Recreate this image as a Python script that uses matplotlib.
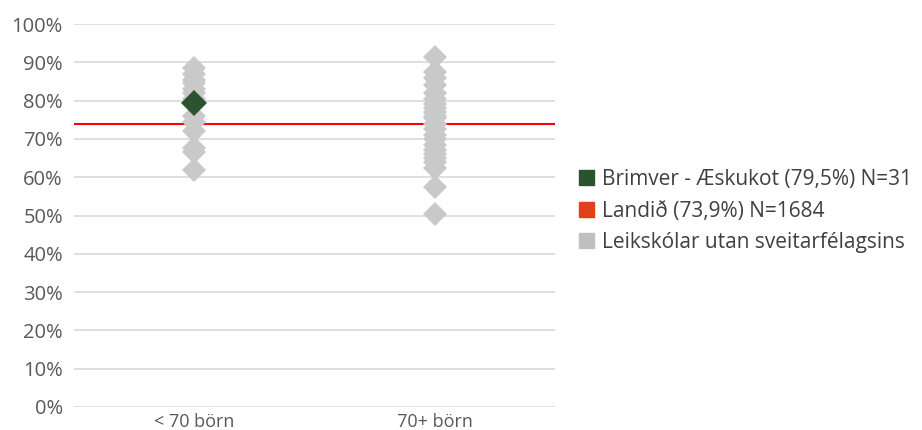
import matplotlib
matplotlib.use("Agg")
import matplotlib.pyplot as plt
from matplotlib.patches import Patch
from matplotlib.ticker import FuncFormatter

categories = ["< 70 börn", "70+ börn"]
group_small = [88.5, 87, 85.5, 84.5, 83, 82, 80.5, 76, 74.5, 72, 67.5, 66.5, 62]
group_large = [91.5, 87.5, 86, 84, 82, 80.5, 79, 78, 77, 76, 75.5, 74, 72.5, 71,
               70, 68.5, 67, 66, 65, 64, 62.5, 57.5, 50.5]
highlight_value = 79.5
highlight_cat = 0
national_value = 73.9
legend_labels = ["Brimver - Æskukot (79,5%) N=31", "Landið (73,9%) N=1684",
                 "Leikskólar utan sveitarfélagsins"]

plt.rcParams['font.family'] = ['Open Sans', 'DejaVu Sans']

fig = plt.figure(figsize=(9.22, 4.30), dpi=100)
ax = fig.add_axes([74/922, 23/430, (555-74)/922, (407-24)/430])

gray = "#c9c9c9"
for i, vals in enumerate([group_small, group_large]):
    ax.plot([i]*len(vals), vals, linestyle="none", marker="D", markersize=12.5,
            color=gray, markeredgewidth=0, zorder=3)
ax.plot([highlight_cat], [highlight_value], linestyle="none", marker="D",
        markersize=13, color="#2d5230", markeredgewidth=0, zorder=4)
ax.axhline(national_value, color="#ff0000", linewidth=1.5, zorder=2)

ax.set_xlim(-0.5, 1.5)
ax.set_ylim(0, 100)
ax.set_yticks(range(0, 101, 10))
ax.yaxis.set_major_formatter(FuncFormatter(lambda v, p: f"{int(v)}%"))
ax.set_xticks([0, 1])
ax.set_xticklabels(categories)
ax.grid(axis="y", color="#d9d9d9", linewidth=1.2, zorder=0)
ax.set_axisbelow(True)
for s in ax.spines.values():
    s.set_visible(False)
ax.tick_params(axis="both", length=0, colors="#595959")
ax.tick_params(axis="y", labelsize=14.5, pad=8)
ax.tick_params(axis="x", labelsize=13, pad=4)

handles = [Patch(color="#2d5230"), Patch(color="#e0401a"), Patch(color="#bfbfbf")]
fig.legend(handles, legend_labels, loc="center left", bbox_to_anchor=(560/922, 1-211/430),
           frameon=False, fontsize=15, handlelength=0.75, handleheight=0.75,
           handletextpad=0.35, labelspacing=0.5, labelcolor="#404040")

fig.savefig("out.png", dpi=100)
